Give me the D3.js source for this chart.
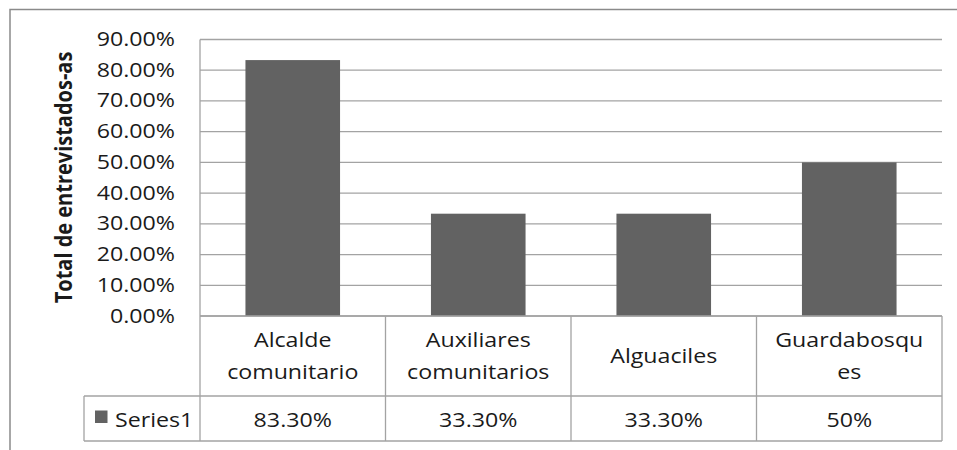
<!DOCTYPE html>
<html><head><meta charset="utf-8">
<script src="https://cdn.jsdelivr.net/npm/d3@7"></script>
<style>
html,body{margin:0;padding:0;background:#fff;}
svg{display:block;font-family:"Open Sans",sans-serif;}
</style></head>
<body>
<svg id="chart" width="957" height="450"></svg>
<script>
const categories = [["Alcalde","comunitario"],["Auxiliares","comunitarios"],["Alguaciles"],["Guardabosqu","es"]];
const values = [0.833, 0.333, 0.333, 0.50];
const valueLabels = ["83.30%","33.30%","33.30%","50%"];
const seriesName = "Series1";
const yTicks = [0,0.1,0.2,0.3,0.4,0.5,0.6,0.7,0.8,0.9];
const yTitle = "Total de entrevistados-as";

(function(){
const svg = d3.select("#chart");
const SX = 1.16;
const gridCol = "#a3a3a3", barCol = "#626262", textCol = "#1a1a1a";

svg.append("rect").attr("x",10).attr("y",9.5).attr("width",1000).attr("height",1000)
  .attr("fill","none").attr("stroke","#8a8a8a").attr("stroke-width",1.5);

const pLeft = 200, pRight = 942, pTop = 39.5, pBottom = 316;
const x = d3.scaleBand().domain(d3.range(categories.length)).range([pLeft,pRight]).paddingInner(0.49).paddingOuter(0.245);
const xc = d3.scaleBand().domain(d3.range(categories.length)).range([pLeft,pRight]);
const y = d3.scaleLinear().domain([0,0.9]).range([pBottom,pTop]);

svg.append("g").selectAll("line").data(yTicks).join("line")
  .attr("x1",pLeft).attr("x2",pRight).attr("y1",d=>y(d)).attr("y2",d=>y(d))
  .attr("stroke",gridCol).attr("stroke-width",1.3);
svg.append("line").attr("x1",pLeft).attr("x2",pLeft).attr("y1",pTop).attr("y2",pBottom)
  .attr("stroke",gridCol).attr("stroke-width",1.3);

const fmt = d3.format(".2%");
svg.append("g").selectAll("text").data(yTicks).join("text")
  .attr("transform",d=>`translate(175,${y(d)+6.5}) scale(${SX},1)`)
  .attr("text-anchor","end").attr("font-size",20).attr("fill",textCol)
  .text(d=>fmt(d));

svg.append("g").selectAll("rect").data(values).join("rect")
  .attr("x",(d,i)=>x(i)).attr("width",x.bandwidth())
  .attr("y",d=>y(d)).attr("height",d=>pBottom-y(d)).attr("fill",barCol);

const rowMid = 396, tableBottom = 441, legendLeft = 84;
const tg = svg.append("g").attr("stroke",gridCol).attr("stroke-width",1.3);
tg.append("line").attr("x1",pLeft).attr("x2",pRight).attr("y1",pBottom).attr("y2",pBottom);
tg.append("line").attr("x1",legendLeft).attr("x2",pRight).attr("y1",rowMid).attr("y2",rowMid);
tg.append("line").attr("x1",legendLeft).attr("x2",pRight).attr("y1",tableBottom).attr("y2",tableBottom);
tg.append("line").attr("x1",legendLeft).attr("x2",legendLeft).attr("y1",rowMid).attr("y2",tableBottom);
tg.selectAll("line.v").data(d3.range(categories.length+1)).join("line").attr("class","v")
  .attr("x1",i=>i<categories.length?xc(i):pRight).attr("x2",i=>i<categories.length?xc(i):pRight)
  .attr("y1",pBottom).attr("y2",tableBottom);

svg.append("g").selectAll("g").data(categories).join("g").each(function(lines,i){
  const cx = xc(i)+xc.bandwidth()/2;
  const g = d3.select(this);
  const base = lines.length===2 ? [346.5,379] : [363];
  lines.forEach((t,j)=>{
    g.append("text").attr("transform",`translate(${cx},${base[j]}) scale(${SX},1)`)
      .attr("text-anchor","middle").attr("font-size",20).attr("fill",textCol).text(t);
  });
});

svg.append("g").selectAll("text").data(valueLabels).join("text")
  .attr("transform",(d,i)=>`translate(${xc(i)+xc.bandwidth()/2},426.5) scale(${SX},1)`)
  .attr("text-anchor","middle").attr("font-size",20).attr("fill",textCol).text(d=>d);

svg.append("rect").attr("x",95).attr("y",410.5).attr("width",12.5).attr("height",12.5).attr("fill",barCol);
svg.append("text").attr("transform",`translate(115,426.5) scale(${SX},1)`)
  .attr("font-size",20).attr("fill",textCol).text(seriesName);

svg.append("text").attr("transform",`translate(71.5,177.5) rotate(-90) scale(1,${SX})`)
  .attr("text-anchor","middle").attr("font-size",20).attr("font-weight","bold").attr("fill",textCol)
  .text(yTitle);
})();
</script>
</body></html>
